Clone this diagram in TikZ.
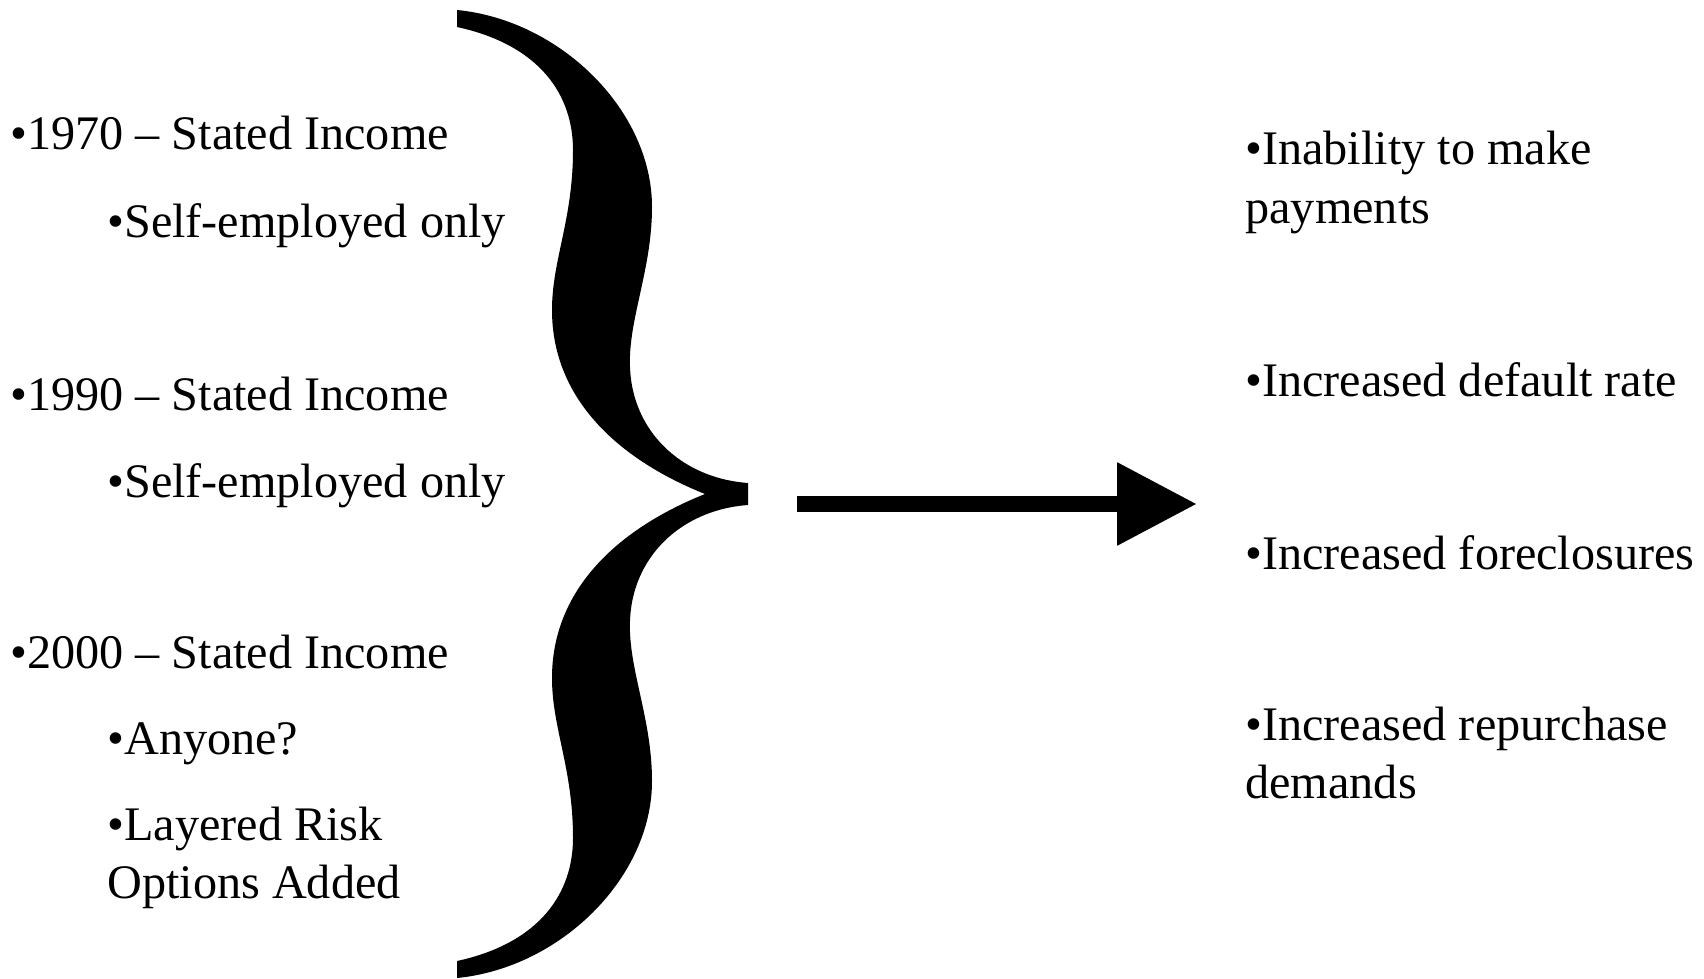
\documentclass[tikz,border=0pt]{standalone}
\usepackage{fontspec}
\setmainfont{Liberation Serif}
\usetikzlibrary{arrows.meta,positioning}

\begin{document}
\begin{tikzpicture}[x=0.5pt, y=-0.5pt,
          > = {Triangle[length=40pt, width=39.5pt]},
     item/.style = {anchor=base west, inner sep=0pt, align=left,
                    font=\fontsize{24.1}{29}\selectfont},
    brace/.style = {fill=black, draw=none},
     flow/.style = {->, line width=8pt}
]
\useasboundingbox (0,0) rectangle (1704,979);
% left column (two-line items sit on their last baseline)
\node (y70)  [item] at (10,150)  {•1970 – Stated Income};
\node (s70)  [item] at (107,237) {•Self-employed only};
\node (y90)  [item] at (10,410)  {•1990 – Stated Income};
\node (s90)  [item] at (107,497) {•Self-employed only};
\node (y00)  [item] at (10,668)  {•2000 – Stated Income};
\node (any)  [item] at (107,754) {•Anyone?};
\node (lay)  [item] at (107,898) {•Layered Risk\\Options Added};
% right column
\node (pay)  [item] at (1245,223) {•Inability to make\\payments};
\node (dflt) [item] at (1245,396) {•Increased default rate};
\node (fcl)  [item] at (1245,569) {•Increased foreclosures};
\node (rep)  [item] at (1245,798) {•Increased repurchase\\demands};
% the brace
\fill[brace] (457,10) .. controls (560,20) and (652,110) .. (652,207)
      .. controls (652,270) and (628,320) .. (630,367)
      .. controls (632,430) and (680,478) .. (748,483)
      -- (748,505)
      .. controls (680,510) and (632,558) .. (630,621)
      .. controls (628,668) and (652,718) .. (652,781)
      .. controls (652,878) and (560,968) .. (457,978)
      -- (457,961)
      .. controls (540,943) and (573,893) .. (573,838)
      .. controls (573,768) and (552,728) .. (552,678)
      .. controls (552,588) and (620,528) .. (705,494)
      .. controls (620,460) and (552,400) .. (552,310)
      .. controls (552,260) and (573,220) .. (573,150)
      .. controls (573,95) and (540,45) .. (457,27)
      -- cycle;
% arrow
\coordinate (tail) at (797,504);
\coordinate (head) at (1197,504);
\draw[flow] (tail) -- (head);
\end{tikzpicture}
\end{document}
